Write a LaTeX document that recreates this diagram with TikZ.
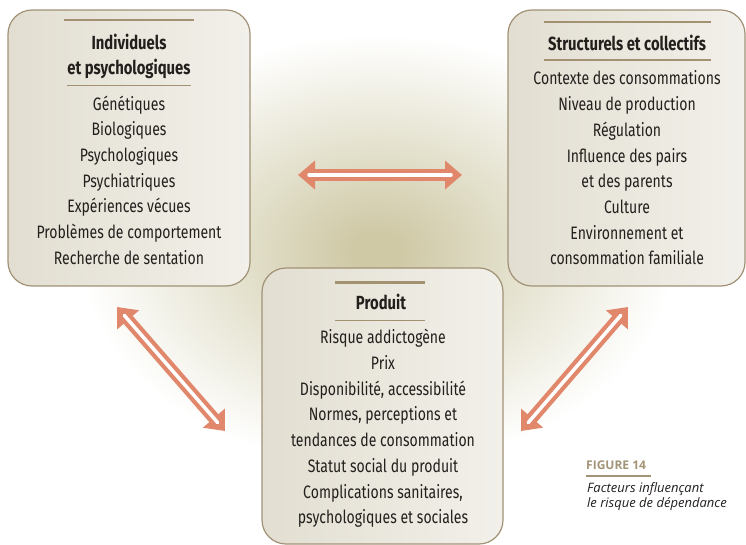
\documentclass[tikz,border=0pt]{standalone}
\usepackage{fontspec}
\setmainfont{Fira Sans}
\newfontfamily\condfont[FakeStretch=0.78]{Fira Sans}
\newfontfamily\capfont{Open Sans}
\usetikzlibrary{arrows.meta, calc, positioning}

\definecolor{boxleft}{HTML}{E2DED1}
\definecolor{boxright}{HTML}{F2F0EA}
\definecolor{boxline}{HTML}{A19276}
\definecolor{rulec}{HTML}{A39272}
\definecolor{inkc}{HTML}{231F1D}
\definecolor{salmon}{HTML}{E1886C}
\definecolor{glowin}{HTML}{CFC9A6}
\definecolor{glowmid}{HTML}{E3E0CC}
\definecolor{figc}{HTML}{A39477}

\pgfdeclareradialshading{glow}{\pgfpoint{0bp}{0bp}}{%
  color(0bp)=(glowin); color(2bp)=(glowin); color(11bp)=(glowmid);
  color(24bp)=(white); color(50bp)=(white)}

\begin{document}
\begin{tikzpicture}[x=1pt, y=-1pt]
        % ================= 样式定义 =================
        \tikzset{
            % 圆角框:米色渐变底, 棕灰边
            box/.style={draw=boxline, line width=1.2pt, rounded corners=24pt,
                        left color=boxleft, right color=boxright, inner sep=0pt},
            % 标题与条目文字
            head/.style={align=center, text=inkc, font=\condfont\bfseries\fontsize{19}{25}\selectfont},
            items/.style={align=center, text=inkc, font=\condfont\fontsize{18}{25.7}\selectfont},
            % 标题上下的分隔线
            topbar/.style={rulec, line width=2.2pt},
            midbar/.style={rulec, line width=1.3pt},
            % 双向箭头:橙红粗线 + 白色内线
            link/.style={salmon, line width=12pt,
                         {Triangle[width=28pt, length=17pt]}-{Triangle[width=28pt, length=17pt]}},
            stripe/.style={white, line width=3.5pt, line cap=round, shorten <=11pt, shorten >=11pt}
        }

        % ================= 1. 背景 =================
        \useasboundingbox (0,0) rectangle (746,545);
        \begin{scope}
            \clip (0,0) rectangle (746,545);
            \shade[shading=glow] (377,250) ellipse (310 and 225);
        \end{scope}

        % ================= 2. 三个框 =================
        \node[box, minimum width=242pt, minimum height=276pt] (indiv) at (129,148) {};
        \node[box, minimum width=237pt, minimum height=276pt] (struct) at (626.5,148) {};
        \node[box, minimum width=241pt, minimum height=276pt] (prod) at (382.5,406) {};

        % --- 左框:个体与心理 ---
        \draw[topbar] ($(indiv.north)+(-65,11)$) -- ++(130,0);
        \node[head] (indivT) at (129,56) {Individuels\\et psychologiques};
        \draw[midbar] ($(indiv.north)+(-62,76)$) -- ++(124,0);
        \node[items] (indivL) at (129,180) {Génétiques\\Biologiques\\Psychologiques\\Psychiatriques\\%
            Expériences vécues\\Problèmes de comportement\\Recherche de sentation};

        % --- 右框:结构与集体 ---
        \draw[topbar] ($(struct.north)+(-83,12.5)$) -- ++(167,0);
        \node[head] (structT) at (627,43) {Structurels et collectifs};
        \draw[midbar] ($(struct.north)+(-83,50.5)$) -- ++(167,0);
        \node[items] (structL) at (627,168) {Contexte des consommations\\Niveau de production\\%
            Régulation\\Influence des pairs\\et des parents\\Culture\\Environnement et\\consommation familiale};

        % --- 下框:产品 ---
        \draw[topbar] ($(prod.north)+(-48,15)$) -- ++(90,0);
        \node[head] (prodT) at (381,302) {Produit};
        \draw[midbar] ($(prod.north)+(-48,53)$) -- ++(90,0);
        \node[items] (prodL) at (383,428.5) {Risque addictogène\\Prix\\Disponibilité, accessibilité\\%
            Normes, perceptions et\\tendances de consommation\\Statut social du produit\\%
            Complications sanitaires,\\psychologiques et sociales};

        % ================= 3. 箭头 =================
        \coordinate (hA) at (298,175);
        \coordinate (hB) at (462,175);
        \coordinate (lA) at (117,307);
        \coordinate (lB) at (225,431);
        \coordinate (rA) at (628,307);
        \coordinate (rB) at (521,431);
        \foreach \a/\b in {hA/hB, lA/lB, rA/rB} {
            \draw[link] (\a) -- (\b);
            \draw[stripe] (\a) -- (\b);
        }

        % ================= 4. 图注 =================
        \node[anchor=base west, inner sep=0pt, text=figc, font=\capfont\bfseries\fontsize{12}{14}\selectfont]
            (figT) at (586,469) {FIGURE 14};
        \draw[figc, line width=1.5pt] (586,476) -- (651,476);
        \node[anchor=base west, inner sep=0pt, align=left, text=inkc,
              font=\capfont\itshape\fontsize{13}{15}\selectfont]
            (figC) at (587,507) {Facteurs influençant\\le risque de dépendance};

    \end{tikzpicture}
\end{document}
